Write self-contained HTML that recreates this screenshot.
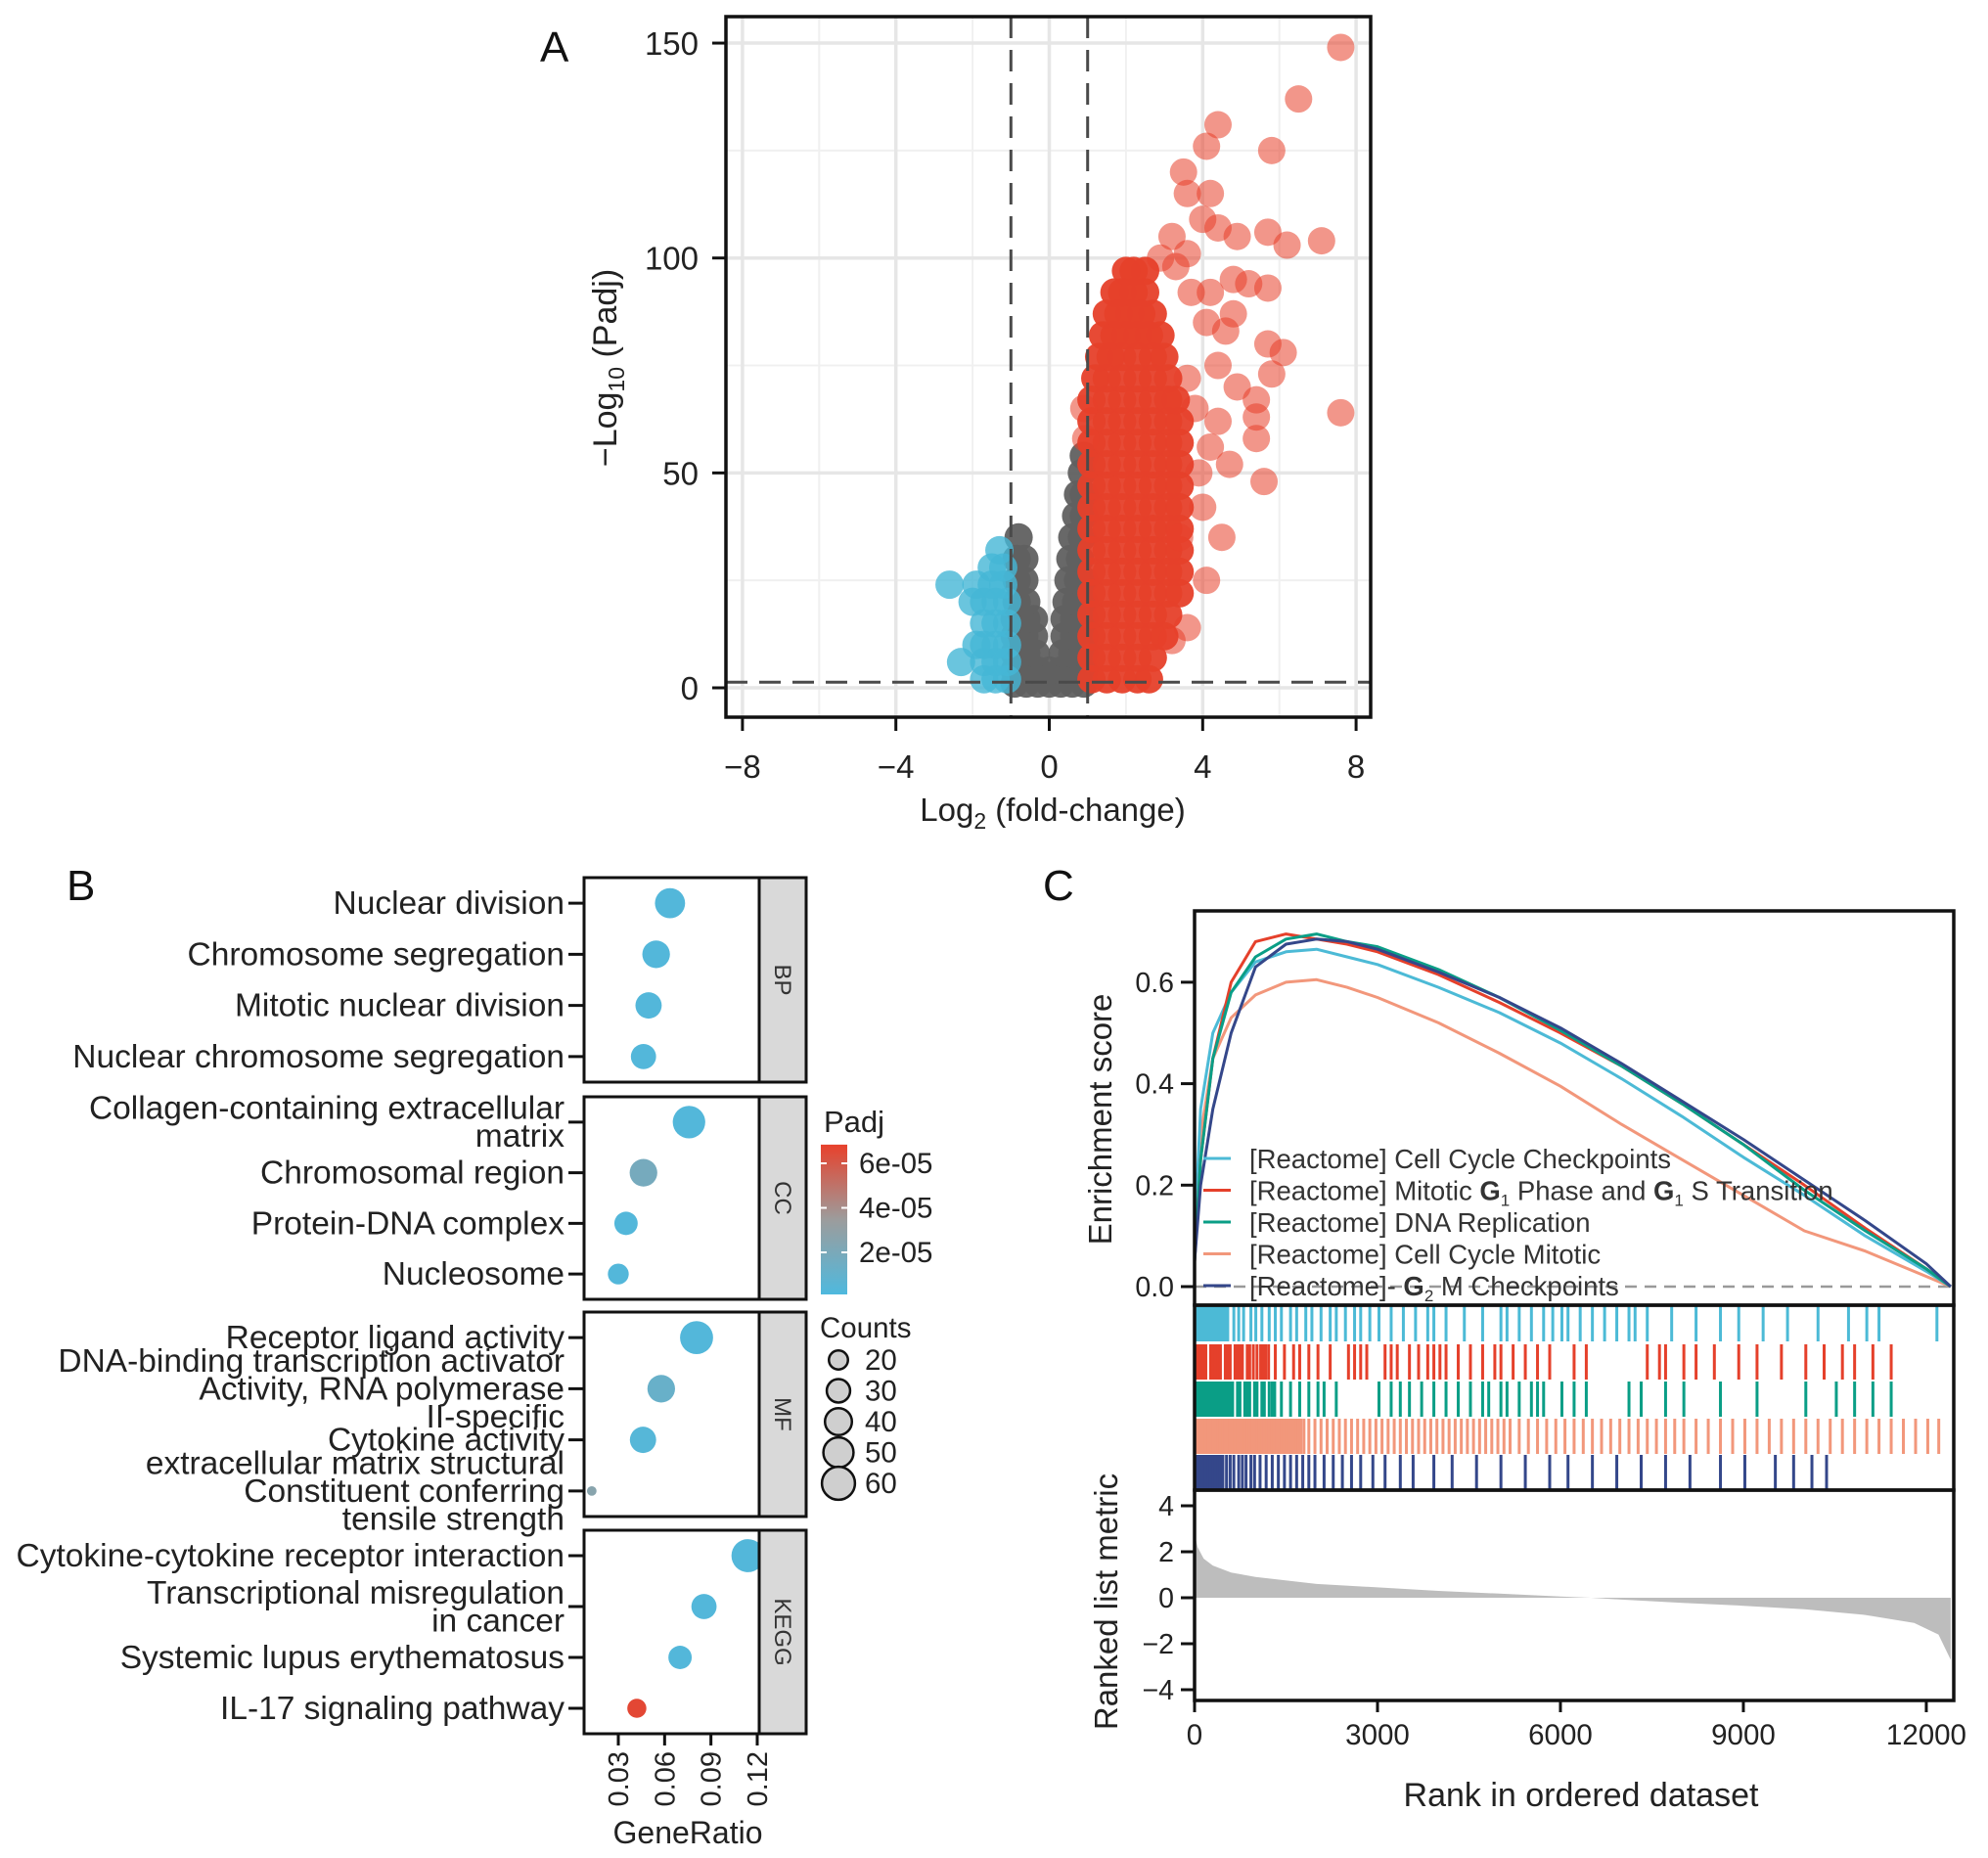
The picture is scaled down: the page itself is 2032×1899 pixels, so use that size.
<!DOCTYPE html>
<html><head><meta charset="utf-8"><style>
html,body{margin:0;padding:0;background:#fff;}
svg{display:block;font-family:"Liberation Sans",Arial,sans-serif;}
</style></head><body>
<svg id="fig" xmlns="http://www.w3.org/2000/svg" width="2032" height="1899" viewBox="0 0 2032 1899">
<defs>
<clipPath id="clipA"><rect x="742" y="17" width="659" height="716"/></clipPath>
<linearGradient id="padjGrad" x1="0" y1="1" x2="0" y2="0">
<stop offset="0" stop-color="#4fb9de"/><stop offset="0.5" stop-color="#9c9c9c"/><stop offset="1" stop-color="#e8412c"/>
</linearGradient>
</defs>
</svg>
<script>
// ---------- Panel A data ----------
const volXTicks = [-8,-4,0,4,8];
const volYTicks = [0,50,100,150];
const redOutliers = [[7.6,149],[6.5,137],[4.4,131],[4.1,126],[5.8,125],[3.5,120],[3.6,115],[4.2,115],[4.0,109],[4.4,107],[4.9,105],[5.7,106],[6.2,103],[7.1,104],[3.2,105],[3.6,101],[4.8,95],[5.2,94],[5.7,93],[4.2,92],[3.7,92],[4.8,87],[4.6,83],[4.1,85],[5.7,80],[6.1,78],[5.8,73],[4.4,75],[4.9,70],[5.4,67],[5.4,63],[5.4,58],[7.6,64],[5.6,48],[4.7,52],[4.4,62],[4.2,56],[4.0,42],[4.5,35],[4.1,25],[3.6,14],[3.2,11],[3.6,72],[3.8,65],[3.9,50],[3.4,35],[3.3,98],[2.9,100],[0.9,65],[0.95,58]];
const redRows = [[2,[1.1,1.5,1.9,2.3,2.6]],[7,[1.1,1.5,1.9,2.3,2.7]],[12,[1.1,1.5,1.9,2.3,2.7,3.0]],[17,[1.1,1.5,1.9,2.3,2.7,3.1]],[22,[1.1,1.5,1.9,2.3,2.7,3.1,3.4]],[27,[1.1,1.5,1.9,2.3,2.7,3.1,3.4]],[32,[1.1,1.5,1.9,2.3,2.7,3.1,3.4]],[37,[1.1,1.5,1.9,2.3,2.7,3.1,3.4]],[42,[1.1,1.5,1.9,2.3,2.7,3.1,3.4]],[47,[1.1,1.5,1.9,2.3,2.7,3.1,3.4]],[52,[1.1,1.5,1.9,2.3,2.7,3.1,3.4]],[57,[1.1,1.5,1.9,2.3,2.7,3.1,3.4]],[62,[1.1,1.5,1.9,2.3,2.7,3.1,3.4]],[67,[1.1,1.5,1.9,2.3,2.7,3.1,3.3]],[72,[1.2,1.5,1.9,2.3,2.7,3.1]],[77,[1.3,1.6,1.9,2.3,2.7,3.0]],[82,[1.4,1.7,2.0,2.3,2.6,2.9]],[87,[1.5,1.8,2.1,2.4,2.7]],[92,[1.7,1.9,2.2,2.5]],[97,[2.0,2.2,2.5]]];
const grayRows = [[1,[-0.9,-0.6,-0.3,0,0.3,0.6,0.9]],[4,[-0.9,-0.6,-0.3,0,0.3,0.6,0.9]],[8,[-0.9,-0.6,-0.35,0.35,0.6,0.9]],[12,[-0.9,-0.65,-0.4,0.4,0.65,0.9]],[16,[-0.9,-0.6,-0.4,0.4,0.65,0.9]],[20,[-0.85,-0.6,0.45,0.7,0.9]],[25,[-0.85,-0.65,0.5,0.75,0.9]],[30,[-0.85,-0.65,0.55,0.8]],[35,[-0.8,0.6,0.85]],[40,[0.7,0.9]],[45,[0.75,0.9]],[50,[0.85]],[54,[0.9]]];
const blueRows = [[2,[-1.1,-1.4,-1.7]],[6,[-1.1,-1.4,-1.7,-2.3]],[10,[-1.1,-1.4,-1.7,-1.9]],[15,[-1.1,-1.4,-1.7]],[20,[-1.1,-1.4,-1.7,-2.0]],[24,[-1.2,-1.5,-1.9,-2.6]],[28,[-1.2,-1.5]],[32,[-1.3]]];

// ---------- Panel B data ----------
const facetNames = ["BP","CC","MF","KEGG"];
const termLines = [["Nuclear division"],["Chromosome segregation"],["Mitotic nuclear division"],["Nuclear chromosome segregation"],
["Collagen-containing extracellular","matrix"],["Chromosomal region"],["Protein-DNA complex"],["Nucleosome"],
["Receptor ligand activity"],["DNA-binding transcription activator","Activity, RNA polymerase","II-specific"],["Cytokine activity"],["extracellular matrix structural","Constituent conferring","tensile strength"],
["Cytokine-cytokine receptor interaction"],["Transcriptional misregulation","in cancer"],["Systemic lupus erythematosus"],["IL-17 signaling pathway"]];
const geneRatio = [0.0635,0.0545,0.0496,0.0463,0.0758,0.0463,0.035,0.030,0.0807,0.0578,0.046,0.0128,0.114,0.0855,0.070,0.042];
const termCounts = [50,42,38,35,58,42,30,24,60,42,38,5,60,35,30,20];
const termPadj = [3e-6,3e-6,3e-6,3e-6,3e-6,1.8e-5,3e-6,3e-6,3e-6,1.2e-5,4e-6,2.6e-5,3e-6,3e-6,3e-6,6.6e-5];
const ratioTicks = [0.03,0.06,0.09,0.12];
const ratioTickLabels = ["0.03","0.06","0.09","0.12"];
const padjTicks = [2e-5,4e-5,6e-5];
const padjTickLabels = ["2e-05","4e-05","6e-05"];
const countLegend = [20,30,40,50,60];

// ---------- Panel C data ----------
const esRanks = [0,100,300,600,1000,1500,2000,2500,3000,4000,5000,6000,7000,8000,9000,10000,11000,12000,12400];
const esCyan   = [0.1,0.35,0.5,0.58,0.64,0.66,0.665,0.65,0.635,0.59,0.54,0.48,0.41,0.335,0.255,0.18,0.1,0.03,0];
const esRed    = [0.05,0.25,0.45,0.6,0.68,0.695,0.685,0.675,0.66,0.615,0.56,0.5,0.435,0.36,0.28,0.2,0.115,0.035,0];
const esGreen  = [0.05,0.25,0.45,0.58,0.65,0.685,0.695,0.68,0.67,0.625,0.57,0.505,0.435,0.36,0.28,0.19,0.11,0.035,0];
const esSalmon = [0.1,0.3,0.45,0.53,0.575,0.6,0.605,0.59,0.57,0.52,0.46,0.395,0.32,0.25,0.18,0.11,0.07,0.02,0];
const esNavy   = [0.05,0.2,0.35,0.5,0.63,0.675,0.685,0.68,0.665,0.62,0.57,0.51,0.44,0.365,0.29,0.21,0.13,0.045,0];
const setNames = ["[Reactome] Cell Cycle Checkpoints","[Reactome] Mitotic G1 Phase and G1 S Transition","[Reactome] DNA Replication","[Reactome] Cell Cycle Mitotic","[Reactome] G2 M Checkpoints"];
const cyanHits = [0,40,80,120,160,200,240,280,320,360,400,440,480,520,620,700,780,900,980,1080,1200,1300,1400,1550,1650,1800,1900,2050,2200,2300,2450,2600,2700,2850,3000,3200,3400,3600,3800,3900,4100,4400,4700,5000,5100,5300,5500,5700,5850,6000,6100,6300,6500,6700,6900,7100,7200,7400,7800,8200,8600,8900,9300,9700,10200,10700,11000,11200,12150];
const redHits = [0,40,80,120,160,240,280,320,360,400,480,520,560,640,680,720,760,840,880,940,1000,1060,1100,1140,1190,1300,1450,1600,1700,1850,2000,2200,2500,2600,2700,2800,3100,3200,3300,3500,3650,3800,3900,4000,4100,4300,4500,4700,4900,5000,5200,5400,5600,5800,6200,6400,7400,7600,7700,8000,8200,8500,8900,9200,9600,10000,10300,10600,10800,11100,11400];
const greenHits = [0,40,80,120,160,200,240,280,320,360,400,440,480,520,560,600,680,720,800,840,880,960,1000,1080,1120,1200,1250,1290,1400,1550,1700,1850,2000,2100,2300,3000,3200,3350,3500,3700,3900,4100,4300,4500,4700,4800,5000,5100,5300,5500,5600,5700,6000,6200,6400,7100,7300,7700,8000,8600,9200,10000,10500,10800,11100,11400];
const salmonHits = [0,40,80,120,160,200,240,280,320,360,400,440,480,520,560,600,640,680,720,760,800,840,880,920,960,1000,1040,1080,1120,1160,1200,1240,1280,1320,1360,1400,1440,1480,1520,1560,1600,1640,1680,1720,1770,1850,1950,2050,2150,2250,2350,2450,2550,2650,2750,2850,2950,3050,3150,3250,3350,3450,3550,3650,3750,3850,3950,4050,4150,4250,4350,4450,4550,4650,4750,4850,4950,5050,5150,5300,5450,5600,5750,5900,6050,6200,6350,6500,6650,6800,6950,7100,7250,7400,7550,7700,7850,8000,8200,8400,8600,8800,9000,9200,9400,9600,9800,10000,10200,10400,10600,10800,11000,11200,11400,11600,11800,12000,12180];
const navyHits = [0,40,80,120,160,200,240,280,320,360,400,440,500,560,620,700,760,820,900,960,1050,1150,1250,1350,1450,1550,1650,1750,1850,1950,2100,2250,2400,2550,2700,2900,3100,3350,3560,3900,4200,4600,5000,5400,5800,6100,6500,6900,7300,7700,8100,8600,9000,9500,9800,10100,10340];
const metricRanks = [0,50,150,300,600,1000,2000,3000,4000,5000,6000,6500,7000,8000,9000,10000,11000,11800,12200,12400];
const metricValues = [2.8,2.2,1.7,1.4,1.1,0.9,0.6,0.45,0.3,0.18,0.05,0,-0.08,-0.22,-0.35,-0.5,-0.75,-1.1,-1.6,-2.7];
const esTicks = [0,0.2,0.4,0.6];
const esTickLabels = ["0.0","0.2","0.4","0.6"];
const metricTicks = [-4,-2,0,2,4];
const metricTickLabels = ["\u22124","\u22122","0","2","4"];
const rankTicks = [0,3000,6000,9000,12000];
const rankTickLabels = ["0","3000","6000","9000","12000"];

const NS = "http://www.w3.org/2000/svg";
const svg = document.getElementById('fig');
function mk(tag, attrs, parent){
  const e = document.createElementNS(NS, tag);
  for (const k in attrs) e.setAttribute(k, attrs[k]);
  (parent||svg).appendChild(e);
  return e;
}
function txt(s, attrs, parent){ const e = mk('text', attrs, parent); e.textContent = s; return e; }

// ================= PANEL A =================
const ax = v => 1072.5 + v*39.2;
const ay = v => 703 - v*4.393;
const gA = mk('g', {});


const bgA = mk('rect', {x:742,y:17,width:659,height:716,fill:'#fff'}, gA);


[-6,-2,2,6].forEach(v=>{ const l=mk('line',{x1:ax(v),x2:ax(v),y1:17,y2:733,stroke:'#f0f0f0','stroke-width':2},gA);
  
   });
[25,75,125].forEach(v=>{ const l=mk('line',{x1:742,x2:1401,y1:ay(v),y2:ay(v),stroke:'#f0f0f0','stroke-width':2},gA);
  
   });
volXTicks.forEach(v=>{ const l=mk('line',{x1:ax(v),x2:ax(v),y1:17,y2:733,stroke:'#e6e6e6','stroke-width':3.5},gA);
  
   });
volYTicks.forEach(v=>{ const l=mk('line',{x1:742,x2:1401,y1:ay(v),y2:ay(v),stroke:'#e6e6e6','stroke-width':3.5},gA);
  
   });
const pts = mk('g', {'clip-path':'url(#clipA)'}, gA);


function rowPts(rows, color, op, name){
  rows.forEach(r=>r[1].forEach(x=>{ const c=mk('circle',{cx:ax(x),cy:ay(r[0]),r:14.5,fill:color,'fill-opacity':op},pts);
    
     }));
}
rowPts(grayRows,'#606060',0.95,'not-significant-point');
rowPts(blueRows,'#45b6d6',0.8,'down-regulated-point');
rowPts(redRows,'#e6402a',0.95,'up-regulated-point');
redOutliers.forEach(p=>{ const c=mk('circle',{cx:ax(p[0]),cy:ay(p[1]),r:14,fill:'#e8402a','fill-opacity':0.55},pts);
  
   });
[-1,1].forEach(v=>{ const l=mk('line',{x1:ax(v),x2:ax(v),y1:17,y2:733,stroke:'#4a4a4a','stroke-width':3,'stroke-dasharray':'22,12'},gA);
  
   });
const hl=mk('line',{x1:742,x2:1401,y1:ay(1.3),y2:ay(1.3),stroke:'#4a4a4a','stroke-width':3,'stroke-dasharray':'22,12'},gA);


const frA=mk('rect',{x:742,y:17,width:659,height:716,fill:'none',stroke:'#111','stroke-width':3.5},gA);


volXTicks.forEach((v,i)=>{
  const t=mk('line',{x1:ax(v),x2:ax(v),y1:733,y2:747,stroke:'#111','stroke-width':3},gA);
  
  
  const l=txt(v<0?'\u2212'+(-v):String(v),{x:ax(v),y:795,'font-size':33,'text-anchor':'middle',fill:'#222'},gA);
  
  
});
volYTicks.forEach(v=>{
  const t=mk('line',{x1:728,x2:742,y1:ay(v),y2:ay(v),stroke:'#111','stroke-width':3},gA);
  
  
  const l=txt(String(v),{x:714,y:ay(v)+12,'font-size':33,'text-anchor':'end',fill:'#222'},gA);
  
  
});
const xtA=txt('',{x:1076,y:839,'font-size':33,'text-anchor':'middle',fill:'#222'},gA);
xtA.innerHTML='Log<tspan font-size="23" dy="8">2</tspan><tspan dy="-8"> (fold-change)</tspan>';


const ytA=txt('',{x:0,y:0,'font-size':34,'text-anchor':'middle',fill:'#222',transform:'translate(630,376) rotate(-90)'},gA);
ytA.innerHTML='\u2212Log<tspan font-size="23" dy="8">10</tspan><tspan dy="-8"> (Padj)</tspan>';


const labA=txt('A',{x:552,y:63,'font-size':44,fill:'#111'});



// ================= PANEL B =================
const facetTop=[897,1121,1341,1564], facetH=[209,207,209,208];
const bx = v => 632 + (v-0.03)/0.03*47.33;
const br = c => 2.18*Math.sqrt(c);
const cBlue=[79,185,222], cGray=[156,156,156], cRed=[232,65,44];
const padjMin=1.1e-6, padjMax=6.84e-5;
function padjColor(p){
  let t=(p-padjMin)/(padjMax-padjMin); t=Math.max(0,Math.min(1,t));
  let a,b,u; if(t<0.5){a=cBlue;b=cGray;u=t/0.5;} else {a=cGray;b=cRed;u=(t-0.5)/0.5;}
  return 'rgb('+a.map((v,i)=>Math.round(v+(b[i]-v)*u)).join(',')+')';
}
const gB=mk('g',{});


const defs=svg.querySelector('defs');
facetNames.forEach((f,fi)=>{
  const cp=mk('clipPath',{id:'clipB'+fi},defs);
  mk('rect',{x:597,y:facetTop[fi],width:179,height:facetH[fi]},cp);
  const bg=mk('rect',{x:597,y:facetTop[fi],width:179,height:facetH[fi],fill:'#fff'},gB);
  
  
  const st=mk('rect',{x:776,y:facetTop[fi],width:48,height:facetH[fi],fill:'#d9d9d9',stroke:'#111','stroke-width':3},gB);
  
  
  const cy=facetTop[fi]+facetH[fi]/2;
  const sl=txt(f,{x:0,y:0,'font-size':24,'text-anchor':'middle',fill:'#333',transform:'translate('+792+','+cy+') rotate(90)'},gB);
  
  
});
termLines.forEach((lines,i)=>{
  const fi=Math.floor(i/4), slot=i%4;
  const y=facetTop[fi]+(slot+0.5)*facetH[fi]/4;
  const t=mk('line',{x1:581,x2:597,y1:y,y2:y,stroke:'#111','stroke-width':3},gB);
  
  
  const n=lines.length, sp=28.5;
  lines.forEach((s,k)=>{
    const l=txt(s,{x:577,y:y+11+(k-(n-1)/2)*sp,'font-size':33.5,'text-anchor':'end',fill:'#222'},gB);
    
    
  });
  const c=mk('circle',{cx:bx(geneRatio[i]),cy:y,r:br(termCounts[i]),fill:padjColor(termPadj[i]),'clip-path':'url(#clipB'+fi+')'},gB);
  
  
});
facetNames.forEach((f,fi)=>{
  const fr=mk('rect',{x:597,y:facetTop[fi],width:179,height:facetH[fi],fill:'none',stroke:'#111','stroke-width':3},gB);
  
  
});
ratioTicks.forEach((v,i)=>{
  const t=mk('line',{x1:bx(v),x2:bx(v),y1:1772,y2:1784,stroke:'#111','stroke-width':3},gB);
  
  
  const l=txt(ratioTickLabels[i],{x:0,y:0,'font-size':29,'text-anchor':'end',fill:'#222',transform:'translate('+(bx(v)+10)+',1790) rotate(-90)'},gB);
  
  
});
const xtB=txt('GeneRatio',{x:703,y:1884,'font-size':32,'text-anchor':'middle',fill:'#222'},gB);


// colour legend
const py = v => 1189 + (6e-5 - v)/1e-5*22.75;
const lt=txt('Padj',{x:842,y:1157,'font-size':31,fill:'#222'},gB);


const cb=mk('rect',{x:839,y:py(padjMax),width:27,height:py(padjMin)-py(padjMax),fill:'url(#padjGrad)'},gB);


padjTicks.forEach((v,i)=>{
  const t=mk('line',{x1:839,x2:845,y1:py(v),y2:py(v),stroke:'#fff','stroke-width':2},gB);
  
  
  const t2=mk('line',{x1:860,x2:866,y1:py(v),y2:py(v),stroke:'#fff','stroke-width':2},gB);
  
  
  const l=txt(padjTickLabels[i],{x:878,y:py(v)+10,'font-size':29.5,fill:'#222'},gB);
  
  
});
const ct=txt('Counts',{x:838,y:1367,'font-size':29.5,fill:'#222'},gB);


countLegend.forEach((c,i)=>{
  const y=1390+i*31.5;
  const k=mk('circle',{cx:857,cy:y,r:br(c),fill:'#cfcfcf',stroke:'#111','stroke-width':2.5},gB);
  
  
  const l=txt(String(c),{x:884,y:y+10,'font-size':29.5,fill:'#222'},gB);
  
  
});
const labB=txt('B',{x:68,y:920,'font-size':44,fill:'#111'});



// ================= PANEL C =================
const cx = r => 1221 + r/12450*776;
const ey = v => 1315 - v*518.5;
const my = v => 1633 - v*23.5;
const gC=mk('g',{});


const zl=mk('line',{x1:1221,x2:1997,y1:ey(0),y2:ey(0),stroke:'#999','stroke-width':2.5,'stroke-dasharray':'12,8'},gC);


const esSeries=[esCyan,esRed,esGreen,esSalmon,esNavy];
const esColors=['#4cbad6','#e5402b','#0a9e86','#f2977b','#34478a'];
const drawOrder=[3,0,1,2,4];
drawOrder.forEach(si=>{
  const d=esRanks.map((r,i)=>(i?'L':'M')+cx(r).toFixed(1)+','+ey(esSeries[si][i]).toFixed(1)).join('');
  const p=mk('path',{d:d,fill:'none',stroke:esColors[si],'stroke-width':3,'stroke-linejoin':'round'},gC);
  
  
});
// legend
setNames.forEach((n,i)=>{
  const y=1184+i*32.5;
  const k=mk('line',{x1:1230,x2:1258,y1:y,y2:y,stroke:esColors[i],'stroke-width':3},gC);
  
  
  const l=txt('',{x:1277,y:y+10,'font-size':27.5,fill:'#333'},gC);
  if(i===1) l.innerHTML='[Reactome] Mitotic <tspan font-weight="bold">G</tspan><tspan font-size="17" dy="6">1</tspan><tspan dy="-6">  Phase and  </tspan><tspan font-weight="bold">G</tspan><tspan font-size="17" dy="6">1</tspan><tspan dy="-6"> S Transition</tspan>';
  else if(i===4) l.innerHTML='[Reactome]- <tspan font-weight="bold">G</tspan><tspan font-size="17" dy="6">2</tspan><tspan dy="-6"> M Checkpoints</tspan>';
  else l.textContent=n;
  
  
});
// hits
const hitSets=[cyanHits,redHits,greenHits,salmonHits,navyHits];
const hitTop=[1335,1374,1412,1450,1487];
hitSets.forEach((hs,si)=>{
  hs.forEach(r=>{
    const l=mk('line',{x1:cx(r)+1.5,x2:cx(r)+1.5,y1:hitTop[si],y2:hitTop[si]+36,stroke:esColors[si],'stroke-width':3},gC);
    
    
  });
});
// ranked metric
const md='M'+cx(0)+','+my(0)+metricRanks.map((r,i)=>'L'+cx(r).toFixed(1)+','+my(metricValues[i]).toFixed(1)).join('')+'L'+cx(metricRanks[metricRanks.length-1])+','+my(0)+'Z';
const ma=mk('path',{d:md,fill:'#bdbdbd'},gC);


[[931,1334],[1334,1523],[1523,1738]].forEach((b,i)=>{
  const f=mk('rect',{x:1221,y:b[0],width:776,height:b[1]-b[0],fill:'none',stroke:'#111','stroke-width':3.5},gC);
  
  
});
esTicks.forEach((v,i)=>{
  const t=mk('line',{x1:1207,x2:1221,y1:ey(v),y2:ey(v),stroke:'#111','stroke-width':3},gC);
  
  
  const l=txt(esTickLabels[i],{x:1200,y:ey(v)+10,'font-size':28.5,'text-anchor':'end',fill:'#222'},gC);
  
  
});
metricTicks.forEach((v,i)=>{
  const t=mk('line',{x1:1207,x2:1221,y1:my(v),y2:my(v),stroke:'#111','stroke-width':3},gC);
  
  
  const l=txt(metricTickLabels[i],{x:1200,y:my(v)+10,'font-size':28.5,'text-anchor':'end',fill:'#222'},gC);
  
  
});
rankTicks.forEach((v,i)=>{
  const t=mk('line',{x1:cx(v),x2:cx(v),y1:1738,y2:1750,stroke:'#111','stroke-width':3},gC);
  
  
  const l=txt(rankTickLabels[i],{x:cx(v),y:1783,'font-size':29.5,'text-anchor':'middle',fill:'#222'},gC);
  
  
});
const xtC=txt('Rank in ordered dataset',{x:1616,y:1846,'font-size':34,'text-anchor':'middle',fill:'#222'},gC);


const ytC=txt('Enrichment score',{x:0,y:0,'font-size':33,'text-anchor':'middle',fill:'#222',transform:'translate(1136,1144) rotate(-90)'},gC);


const ytC2=txt('Ranked list metric',{x:0,y:0,'font-size':33,'text-anchor':'middle',fill:'#222',transform:'translate(1142,1637) rotate(-90)'},gC);


const labC=txt('C',{x:1066,y:920,'font-size':44,fill:'#111'});


</script>
</body></html>
